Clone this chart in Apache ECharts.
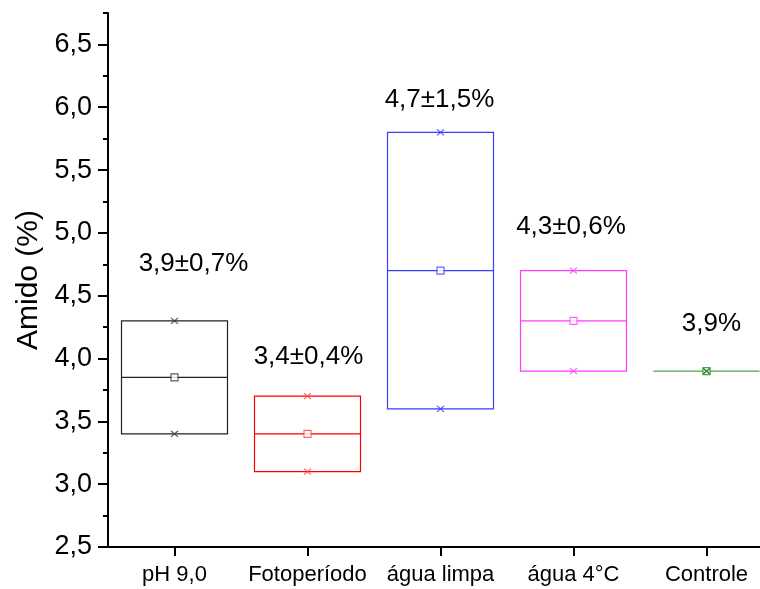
<!DOCTYPE html>
<html>
<head>
<meta charset="utf-8">
<script src="https://cdn.jsdelivr.net/npm/echarts@6/dist/echarts.min.js"></script>
<style>
  html, body { margin: 0; padding: 0; background: #ffffff; overflow: hidden; width: 760px; height: 589px; }
  #chart { width: 780px; height: 589px; }
</style>
</head>
<body>
<div id="chart"></div>
<script>
// Starch content per treatment
const categories = ['pH 9,0', 'Fotoperíodo', 'água limpa', 'água 4°C', 'Controle'];
const lowVals    = [3.4, 3.1, 3.6, 3.9, 3.9];
const highVals   = [4.3, 3.7, 5.8, 4.7, 3.9];
const medianVals = [3.85, 3.4, 4.7, 4.3, 3.9];
const meanVals   = [3.85, 3.4, 4.7, 4.3, 3.9];
const sdVals     = [0.7, 0.4, 1.5, 0.6, null];

// Y axis ticks
const majorTicks = [2.5, 3.0, 3.5, 4.0, 4.5, 5.0, 5.5, 6.0, 6.5];
const minorTicks = [2.75, 3.25, 3.75, 4.25, 4.75, 5.25, 5.75, 6.25, 6.75];

// Styling and annotation placement
const boxColors  = ['#222222', '#ff0000', '#3c3cff', '#ff3cff', '#4ea64e'];
const markColors = ['#333333', '#ff4646', '#3c3cff', '#ff40ff', '#1f8a1f'];
const noteY  = [4.75, 4.01, 6.06, 5.05, 4.28];
const noteDx = [19, 1, -1, -2.5, 5];

const FONT = "'Liberation Sans', Arial, sans-serif";
const fmt = v => v.toFixed(1).replace('.', ',');

const boxData = categories.map((c, i) => ({
  value: [lowVals[i], lowVals[i], medianVals[i], highVals[i], highVals[i]],
  itemStyle: { color: 'rgba(0,0,0,0)', borderColor: boxColors[i], borderWidth: 1.2 }
}));

const meanData = categories.map((c, i) => ({
  value: [i, meanVals[i]],
  itemStyle: { color: '#ffffff', borderColor: markColors[i], borderWidth: 1.2 }
}));

const endData = [];
categories.forEach((c, i) => {
  [lowVals[i], highVals[i]].forEach(v => endData.push({
    value: [i, v],
    itemStyle: { color: 'none', borderColor: markColors[i], borderWidth: 1.2 }
  }));
});

const noteData = categories.map((c, i) => ({
  value: [i, noteY[i]],
  label: {
    offset: [noteDx[i], 0],
    formatter: sdVals[i] == null ? fmt(meanVals[i]) + '%' : fmt(meanVals[i]) + '±' + fmt(sdVals[i]) + '%'
  }
}));

const chart = echarts.init(document.getElementById('chart'), null, { renderer: 'canvas' });
chart.setOption({
  animation: false,
  backgroundColor: '#ffffff',
  grid: { left: 108, top: 13, width: 665, height: 534 },
  xAxis: {
    type: 'category',
    data: categories,
    axisLine: { show: true, lineStyle: { color: '#000', width: 2 } },
    axisTick: { show: true, alignWithLabel: true, interval: 0, length: 9, lineStyle: { color: '#000', width: 2 } },
    axisLabel: { color: '#000', fontSize: 22, fontFamily: FONT, margin: 17, interval: 0 },
    splitLine: { show: false }
  },
  yAxis: [
    {
      type: 'value',
      position: 'left',
      min: 2.5,
      max: 6.75,
      axisLine: { show: true, lineStyle: { color: '#000', width: 2 } },
      axisTick: { show: true, length: 10, customValues: majorTicks, lineStyle: { color: '#000', width: 2 } },
      axisLabel: { color: '#000', fontSize: 27, fontFamily: FONT, margin: 16, customValues: majorTicks, formatter: v => fmt(v) },
      splitLine: { show: false },
      name: 'Amido (%)',
      nameLocation: 'middle',
      nameGap: 64,
      nameTextStyle: { color: '#000', fontSize: 30, fontFamily: FONT }
    },
    {
      type: 'value',
      position: 'left',
      min: 2.5,
      max: 6.75,
      axisLine: { show: false },
      axisTick: { show: true, length: 5, customValues: minorTicks, lineStyle: { color: '#000', width: 2 } },
      axisLabel: { show: false },
      splitLine: { show: false }
    }
  ],
  series: [
    {
      type: 'boxplot',
      silent: true,
      boxWidth: [106, 106],
      data: boxData
    },
    {
      type: 'scatter',
      silent: true,
      symbol: 'rect',
      symbolSize: 7,
      data: meanData,
      z: 3
    },
    {
      type: 'scatter',
      silent: true,
      symbol: 'path://M0,0L10,10M10,0L0,10',
      symbolSize: [7, 6],
      data: endData,
      z: 4
    },
    {
      type: 'scatter',
      silent: true,
      symbolSize: 1,
      itemStyle: { color: 'rgba(0,0,0,0)' },
      label: {
        show: true, position: 'inside', color: '#000', opacity: 1,
        textBorderWidth: 0, textBorderColor: 'transparent',
        fontSize: 26, fontFamily: FONT
      },
      data: noteData,
      z: 5
    }
  ]
});
</script>
</body>
</html>
